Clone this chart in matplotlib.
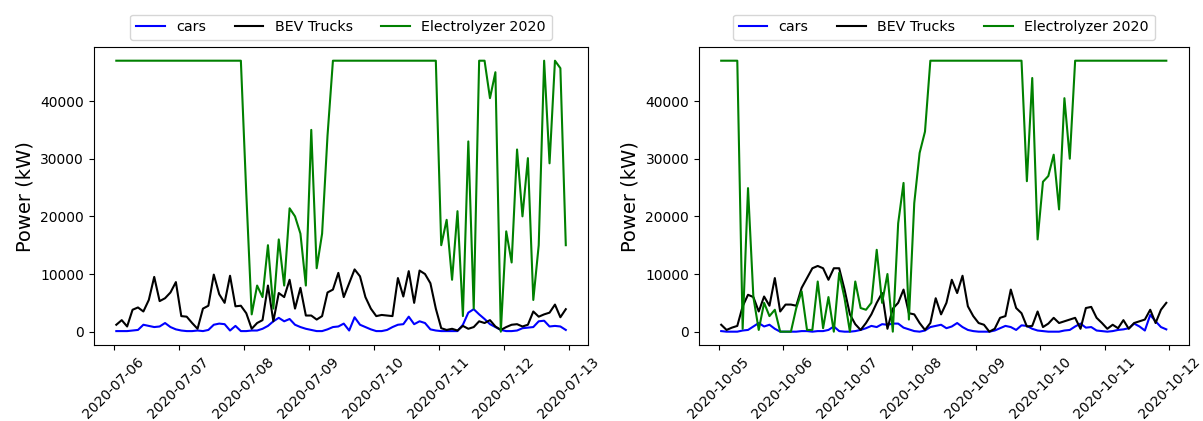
import pandas as pd
import matplotlib
matplotlib.use('Agg')
from matplotlib import pyplot as plt
import matplotlib.dates as mdates

# two-hourly samples, one row per day
times_jul = pd.date_range('2020-07-06 01:00', periods=84, freq='2h')
times_oct = pd.date_range('2020-10-05 01:00', periods=84, freq='2h')

cars_jul = [100, 100, 100, 200, 300, 1200, 1000, 800, 900, 1500, 800, 400,
            200, 100, 100, 200, 100, 300, 1200, 1400, 1300, 200, 1000, 100,
            100, 200, 200, 500, 1000, 1800, 2400, 1800, 2200, 1200, 800, 500,
            300, 100, 100, 400, 800, 900, 1400, 200, 2500, 1200, 800, 400,
            100, 100, 300, 800, 1200, 1300, 2600, 1300, 1800, 1500, 400, 200,
            100, 100, 100, 100, 1200, 3300, 3900, 3000, 2200, 1300, 800, 300,
            100, 100, 200, 600, 700, 800, 1800, 1900, 900, 1000, 900, 300]

trucks_jul = [1200, 2000, 900, 3800, 4200, 3500, 5500, 9500, 5300, 5800, 6800, 8600,
              2700, 2600, 1500, 500, 4000, 4500, 9900, 6500, 5000, 9700, 4400, 4500,
              3200, 500, 1500, 2000, 8000, 1800, 6700, 6000, 9000, 4000, 7600, 2800,
              2800, 2100, 2700, 6800, 7300, 10200, 6000, 8400, 10800, 9600, 6000, 4000,
              2700, 2900, 2800, 2700, 9300, 6100, 10500, 5000, 10600, 10000, 8400, 4000,
              600, 300, 500, 200, 1000, 500, 800, 1800, 1500, 2000, 900, 300,
              800, 1200, 1300, 900, 1200, 3500, 2600, 3000, 3300, 4700, 2500, 3900]

green_jul = [47000, 47000, 47000, 47000, 47000, 47000, 47000, 47000, 47000, 47000, 47000, 47000,
             47000, 47000, 47000, 47000, 47000, 47000, 47000, 47000, 47000, 47000, 47000, 47000,
             24000, 3000, 8000, 6000, 15000, 4000, 16000, 8000, 21400, 20000, 17000, 8000,
             35000, 11000, 17000, 34000, 47000, 47000, 47000, 47000, 47000, 47000, 47000, 47000,
             47000, 47000, 47000, 47000, 47000, 47000, 47000, 47000, 47000, 47000, 47000, 47000,
             15000, 19400, 9000, 20900, 2700, 33000, 4000, 47000, 47000, 40500, 45000, 0,
             17400, 12000, 31600, 20000, 30100, 5500, 15000, 47000, 29200, 47000, 45700, 15000]

cars_oct = [100, 0, 0, 0, 200, 300, 900, 1500, 900, 1200, 500, 0,
            0, 0, 0, 100, 100, 0, 100, 100, 300, 900, 100, 0,
            0, 100, 300, 600, 1000, 800, 1300, 1200, 1400, 1400, 700, 400,
            100, 0, 200, 800, 1000, 1200, 600, 900, 1500, 800, 300, 100,
            0, 0, 0, 200, 600, 1000, 800, 300, 1100, 1000, 500, 200,
            100, 0, 0, 0, 200, 300, 900, 1400, 700, 800, 200, 100,
            0, 100, 300, 400, 600, 1400, 900, 200, 2900, 1800, 800, 400]

trucks_oct = [1200, 300, 700, 1000, 4400, 6400, 6000, 3500, 6100, 4500, 9300, 3500,
              4700, 4700, 4500, 7600, 9300, 11000, 11400, 11000, 9000, 11000, 11000, 7300,
              3000, 1300, 300, 1500, 3000, 5000, 6700, 500, 4000, 5000, 7300, 3200,
              3000, 1500, 300, 1500, 5800, 3000, 5000, 9000, 6700, 9700, 4400, 2700,
              1500, 1200, 0, 500, 2400, 2700, 7300, 4100, 3200, 900, 1000, 3500,
              800, 1400, 2400, 1500, 1800, 2100, 2400, 500, 4100, 4300, 2400, 1500,
              500, 1200, 600, 2000, 500, 1500, 1800, 2100, 3800, 1500, 3800, 5000]

green_oct = [47000, 47000, 47000, 47000, 500, 24900, 6000, 300, 5000, 2700, 3800, 0,
             0, 0, 4100, 7000, 300, 300, 8700, 600, 6000, 0, 10200, 5800,
             0, 8700, 4100, 3800, 5000, 14200, 5000, 10000, 0, 18800, 25800, 2100,
             22300, 31000, 34700, 47000, 47000, 47000, 47000, 47000, 47000, 47000, 47000, 47000,
             47000, 47000, 47000, 47000, 47000, 47000, 47000, 47000, 47000, 26100, 44000, 16000,
             26000, 27000, 30700, 21200, 40500, 30000, 47000, 47000, 47000, 47000, 47000, 47000,
             47000, 47000, 47000, 47000, 47000, 47000, 47000, 47000, 47000, 47000, 47000, 47000]

fig = plt.figure(figsize=(12.03, 4.21), dpi=100)
ax1 = fig.add_axes([0.078, 0.18, 0.411, 0.708])
ax2 = fig.add_axes([0.581, 0.18, 0.407, 0.708])

panels = [(ax1, times_jul, cars_jul, trucks_jul, green_jul),
          (ax2, times_oct, cars_oct, trucks_oct, green_oct)]

for ax, t, cars, trucks, green in panels:
    ax.plot(t, cars, color='blue', label='cars')
    ax.plot(t, trucks, color='black', label='BEV Trucks')
    ax.plot(t, green, color='green', label='Electrolyzer 2020')
    ax.set_ylabel('Power (kW)', fontsize=14)
    ax.xaxis.set_major_locator(mdates.DayLocator())
    ax.xaxis.set_major_formatter(mdates.DateFormatter('%Y-%m-%d'))
    ax.tick_params(axis='x', labelrotation=45)
    ax.legend(loc='lower center', bbox_to_anchor=(0.5, 1.0), ncol=3, fontsize=10.3)

fig.savefig('out.png', dpi=100)
